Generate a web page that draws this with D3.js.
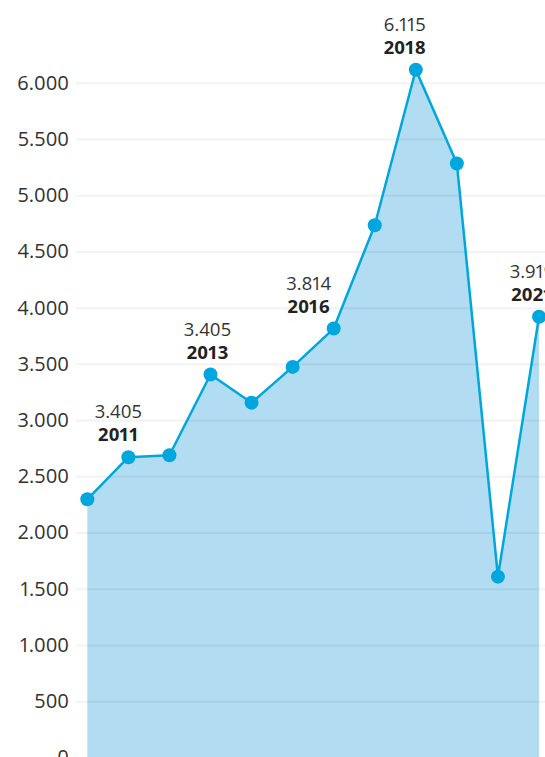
<!DOCTYPE html>
<html>
<head>
<meta charset="utf-8">
<script src="https://cdn.jsdelivr.net/npm/d3@7"></script>
<style>
  body { margin: 0; background: #fff; }
  svg { display: block; }
  svg text { font-family: "Open Sans", "Noto Sans", sans-serif; font-variant-numeric: proportional-nums; }
</style>
</head>
<body>
<div id="chart"></div>
<script>
// data
const years = [2010, 2011, 2012, 2013, 2014, 2015, 2016, 2017, 2018, 2019, 2020, 2021];
const values = [2296, 2670, 2687, 3405, 3155, 3473, 3814, 4733, 6115, 5281, 1608, 3919];
const yTicks = [0, 500, 1000, 1500, 2000, 2500, 3000, 3500, 4000, 4500, 5000, 5500, 6000];

// annotated points (value text as printed on the chart)
const labelYears = [2011, 2013, 2016, 2018, 2021];
const labelTexts = ["3.405", "3.405", "3.814", "6.115", "3.919"];

// layout
const width = 545, height = 757;
const plotLeft = 87.3, plotRight = 539;
const yTop = 82.7, yBottom = 757.5;
const gridLeft = 76;
const labelNudge = { 2011: -10, 2013: -3, 2016: -25, 2018: -11, 2021: -7 };

const lineColor = "#00a6de";
const areaColor = "#b2dcf1";

const svg = d3.select("#chart").append("svg")
    .attr("width", width)
    .attr("height", height);

const x = d3.scaleLinear()
    .domain([years[0], years[years.length - 1]])
    .range([plotLeft, plotRight]);

const y = d3.scaleLinear()
    .domain([0, 6000])
    .range([yBottom, yTop]);

const data = years.map((yr, i) => ({ year: yr, value: values[i] }));

// area first, grid drawn over it (lines show faintly through the fill)
svg.append("path")
    .datum(data)
    .attr("fill", areaColor)
    .attr("d", d3.area()
        .x(d => x(d.year))
        .y0(y(0))
        .y1(d => y(d.value)));

// y axis: labels on the left, grid across
const yAxis = d3.axisLeft(y)
    .tickValues(yTicks)
    .tickSize(-(width - gridLeft))
    .tickPadding(7)
    .tickFormat(d => d3.format(",")(d).replace(/,/g, "."));

svg.append("g")
    .attr("transform", `translate(${gridLeft},0)`)
    .call(yAxis)
    .attr("font-family", null)
    .call(g => g.select(".domain").remove())
    .call(g => g.selectAll(".tick line")
        .attr("stroke", "#000")
        .attr("stroke-opacity", 0.05)
        .attr("stroke-width", 2))
    .call(g => g.selectAll(".tick text")
        .attr("fill", "#333")
        .style("font-size", "20px"));

// line + dots
svg.append("path")
    .datum(data)
    .attr("fill", "none")
    .attr("stroke", lineColor)
    .attr("stroke-width", 2.5)
    .attr("stroke-linejoin", "round")
    .attr("d", d3.line()
        .x(d => x(d.year))
        .y(d => y(d.value)));

svg.append("g")
    .selectAll("circle")
    .data(data)
    .join("circle")
    .attr("cx", d => x(d.year))
    .attr("cy", d => y(d.value))
    .attr("r", 7)
    .attr("fill", lineColor);

// annotations
const labels = svg.append("g")
    .selectAll("g")
    .data(labelYears.map((yr, i) => ({ year: yr, text: labelTexts[i], value: values[years.indexOf(yr)] })))
    .join("g")
    .attr("transform", d => `translate(${x(d.year) + labelNudge[d.year]},${y(d.value)})`);

labels.append("text")
    .attr("y", -39)
    .attr("text-anchor", "middle")
    .attr("fill", "#333")
    .style("font-size", "18.5px")
    .text(d => d.text);

labels.append("text")
    .attr("y", -16)
    .attr("text-anchor", "middle")
    .attr("fill", "#222")
    .style("font-size", "18.5px")
    .style("font-weight", "bold")
    .text(d => d.year);
</script>
</body>
</html>
